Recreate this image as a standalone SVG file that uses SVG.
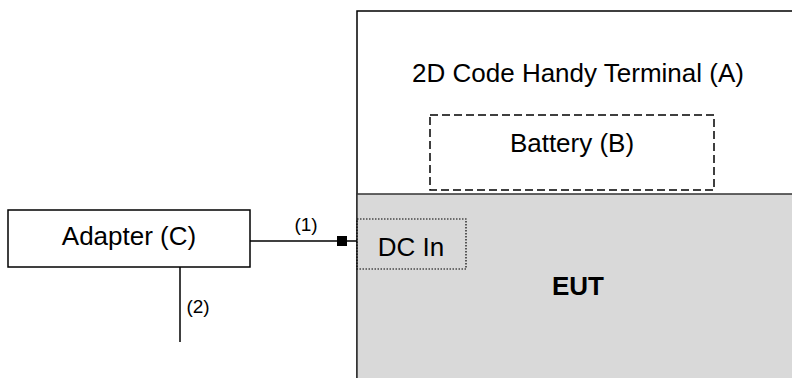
<svg xmlns="http://www.w3.org/2000/svg" width="792" height="378" viewBox="0 0 792 378">
<style>
text{font-family:"Liberation Sans",Arial,sans-serif;fill:#000;text-anchor:middle}
.big{font-size:26px}
.lbl{font-size:19px}
.box{fill:#fff;stroke:#000;stroke-width:1.5}
.conn{stroke:#000;stroke-width:1.5;fill:none}
</style>
<defs>
<marker id="sq" viewBox="0 0 10 10" markerWidth="10" markerHeight="10" markerUnits="userSpaceOnUse" refX="20" refY="5" orient="auto">
<rect x="0" y="0" width="10" height="10" fill="#000"/>
</marker>
</defs>
<g id="terminal">
<rect x="357" y="11" width="445" height="380" class="box"/>
<text class="big" x="578" y="82">2D Code Handy Terminal (A)</text>
</g>
<g id="eut">
<rect x="357" y="194" width="445" height="200" fill="#d9d9d9" stroke="#333" stroke-width="1.5"/>
<text x="578" y="295" font-size="26" font-weight="bold">EUT</text>
</g>
<g id="battery">
<rect x="430" y="115" width="284" height="75" fill="none" stroke="#000" stroke-width="1.5" stroke-dasharray="8,4"/>
<text class="big" x="572" y="152">Battery (B)</text>
</g>
<g id="dcin">
<rect x="357" y="219" width="109" height="50" fill="none" stroke="#000" stroke-width="1.2" stroke-dasharray="1.5,1.5"/>
<text class="big" x="411" y="256">DC In</text>
</g>
<g id="adapter">
<rect x="8" y="210" width="242" height="57" class="box"/>
<text class="big" x="129" y="245">Adapter (C)</text>
</g>
<g id="connectors">
<line x1="250" y1="241" x2="357" y2="241" class="conn" marker-end="url(#sq)"/>
<text class="lbl" x="306" y="231">(1)</text>
<line x1="180" y1="267" x2="180" y2="342" class="conn"/>
<text class="lbl" x="198" y="313">(2)</text>
</g>
</svg>
